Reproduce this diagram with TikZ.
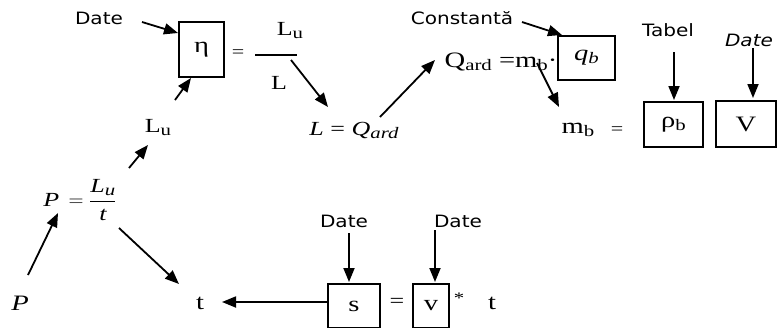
\documentclass[tikz,border=0pt]{standalone}
\usepackage{fontspec}
\setmainfont{Liberation Serif}[FakeStretch=1.3]
\newfontfamily\labelfont{DejaVu Sans}[FakeStretch=1.18]
\usetikzlibrary{arrows.meta,calc}
\newcommand\mysub[1]{\raisebox{-3pt}{\fontsize{16}{16}\selectfont #1}}
\begin{document}
\begin{tikzpicture}[x=1pt,y=-1pt,
 lbl/.style={font=\labelfont\fontsize{17}{19}\selectfont, inner sep=0pt},
 sym/.style={font=\fontsize{22}{24}\selectfont, inner sep=0pt},
 small/.style={font=\fontsize{20}{22}\selectfont, inner sep=0pt},
 eqs/.style={inner sep=0pt, font=\fontsize{17}{18}\selectfont},
 boxnode/.style={draw, line width=1.1pt, inner sep=0pt, font=\fontsize{22}{24}\selectfont},
 arr/.style={line width=1.8pt, -{Triangle[length=14pt,width=11pt]}},
]
\useasboundingbox (0,0) rectangle (779,327);
% top row
\node[lbl] (date1) at (99,18) {Date};
\node[boxnode, minimum width=45pt, minimum height=55pt] (eta) at (201.5,49.5) {η};
\node[eqs] (eq1) at (238,54) {=};
\node[small] (lu1) at (290,31) {L\mysub{u}};
\node[small] (l1) at (279,83) {L};
\node[small] (lu2) at (158,128) {L\mysub{u}};
\node[inner sep=0pt, font=\fontsize{20}{22}\selectfont] (lq) at (354,130) {\textit{L} = \textit{Q}\mysub{\textit{ard}}};
\node[sym] (qeq) at (501,62) {Q\mysub{ard} =m\mysub{b}·};
\node[lbl] (const) at (462,18) {Constantă};
\node[boxnode, minimum width=57pt, minimum height=44pt] (qb) at (586.5,58) {\textit{q}\mysub{\textit{b}}};
\node[sym] (mb) at (578,130) {m\mysub{b}};
\node[eqs] (eq2) at (617,131) {=};
\node[lbl] (tabel) at (668,30) {Tabel};
\node[boxnode, minimum width=59pt, minimum height=45pt] (rho) at (673.5,124.5) {ρ\mysub{b}};
\node[lbl, font=\labelfont\itshape\fontsize{17}{19}\selectfont] (date2) at (749,40) {Date};
\node[boxnode, minimum width=60pt, minimum height=46pt] (vbox) at (746,124) {V};
% bottom
\node[inner sep=0pt, font=\fontsize{20}{22}\selectfont] (pfrac) at (80,200)
  {$\displaystyle \textit{P}\;\,{\fontsize{24}{24}\selectfont =}\;\frac{\textit{L}\mysub{\textit{u}}}{\textit{t}}$};
\node[inner sep=0pt, font=\fontsize{22}{24}\selectfont] (p2) at (20,303) {\textit{P}};
\node[sym] (t1) at (200,303) {t};
\node[boxnode, minimum width=52pt, minimum height=44pt] (sbox) at (354,306) {s};
\node[eqs, font=\fontsize{20}{22}\selectfont] (eq3) at (397,303) {=};
\node[boxnode, minimum width=36pt, minimum height=44pt] (vb2) at (431,306) {v};
\node[inner sep=0pt, font=\fontsize{16}{16}\selectfont] (star) at (459,298) {*};
\node[sym] (t2) at (492,303) {t};
\node[lbl] (date3) at (344,221) {Date};
\node[lbl] (date4) at (458,221) {Date};
% fraction bar
\draw[line width=1.1pt] ($(lu1)+(-35,24)$) -- ($(lu1)+(7,24)$);
% arrows
\draw[arr] ($(date1)+(43,4)$) -- ($(eta)+(-23.5,-16.5)$);
\draw[arr] ($(lu2)+(17,-28)$) -- ($(eta)+(-10.5,28.5)$);
\draw[arr] ($(l1)+(12,-23)$) -- ($(lq)+(-26,-23)$);
\draw[arr] ($(lq)+(26,-13)$) -- ($(qeq)+(-66,-2)$);
\draw[arr] ($(const)+(60,4)$) -- ($(qb)+(-24.5,-23)$);
\draw[arr] ($(qeq)+(36,1)$) -- ($(mb)+(-19,-23)$);
\draw[arr] ($(tabel)+(6,22)$) -- ($(rho)+(0.5,-24.5)$);
\draw[arr] ($(date2)+(4,8)$) -- ($(vbox)+(7,-26)$);
\draw[arr] ($(pfrac)+(49,-32)$) -- ($(lu2)+(-10,17)$);
\draw[arr] ($(p2)+(8,-28)$) -- ($(pfrac)+(-22,13)$);
\draw[arr] ($(pfrac)+(39,28)$) -- ($(t1)+(-21,-19)$);
\draw[arr] ($(sbox)+(-26,-4)$) -- ($(t1)+(22,-1)$);
\draw[arr] ($(date3)+(5,12)$) -- ($(sbox)+(-5,-24)$);
\draw[arr] ($(date4)+(-23,9)$) -- ($(vb2)+(4,-24)$);
\end{tikzpicture}
\end{document}
